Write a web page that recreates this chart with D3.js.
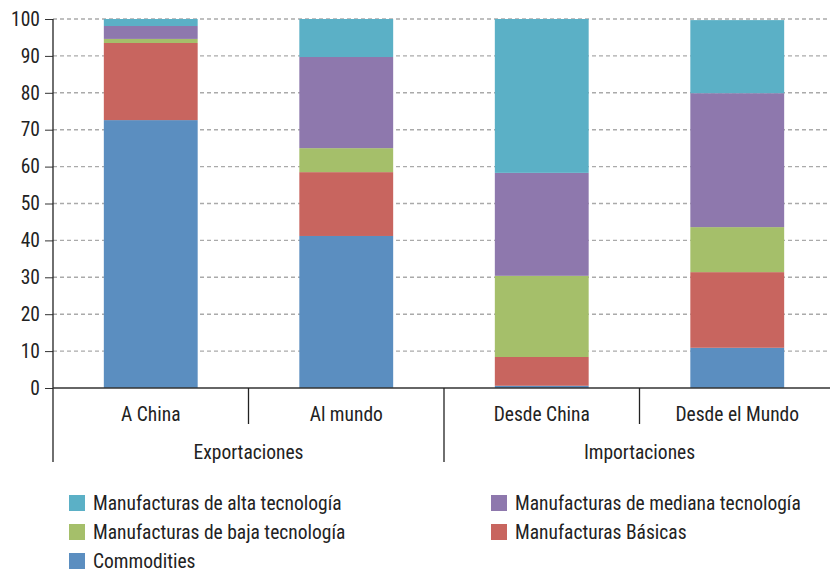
<!DOCTYPE html>
<html><head><meta charset="utf-8">
<script src="https://cdn.jsdelivr.net/npm/d3@7"></script>
<style>body{margin:0;background:#fff}svg{display:block}text{font-family:"Liberation Sans Narrow","Roboto Condensed","Arial Narrow",sans-serif;fill:#222}</style>
</head><body><svg id="c" width="830" height="571"></svg>
<script>
const categories = ["A China", "Al mundo", "Desde China", "Desde el Mundo"];
const groups = [{name: "Exportaciones", members: ["A China", "Al mundo"]}, {name: "Importaciones", members: ["Desde China", "Desde el Mundo"]}];
const seriesNames = ["Commodities", "Manufacturas Básicas", "Manufacturas de baja tecnología", "Manufacturas de mediana tecnología", "Manufacturas de alta tecnología"];
const commodities = [72.6, 41.2, 0.6, 10.9];
const basicas = [20.9, 17.3, 7.8, 20.5];
const baja = [1.1, 6.5, 22.0, 12.2];
const mediana = [3.5, 24.7, 27.9, 36.3];
const alta = [1.9, 10.3, 41.7, 19.8];
const yTicks = [0, 10, 20, 30, 40, 50, 60, 70, 80, 90, 100];
const colors = ["#5b8ec0", "#c8655f", "#a5bf6a", "#8e78ad", "#5bb0c6"];
const legendOrder = [
  "Manufacturas de alta tecnología", "Manufacturas de mediana tecnología",
  "Manufacturas de baja tecnología", "Manufacturas Básicas", "Commodities"];

const seriesValues = [commodities, basicas, baja, mediana, alta];
const table = categories.map((c, i) => {
  const o = {cat: c};
  seriesNames.forEach((s, k) => o[s] = seriesValues[k][i]);
  return o;
});
const stacked = d3.stack().keys(seriesNames)(table);

const svg = d3.select("#c");
const L = 53, R = 835, T = 19, B = 388;
const x = d3.scaleBand().domain(categories).range([L, R]).paddingInner(0.52).paddingOuter(0.26);
const xb = d3.scaleBand().domain(categories).range([L, R]);
const y = d3.scaleLinear().domain([0, 100]).range([B, T]);
const color = d3.scaleOrdinal().domain(seriesNames).range(colors);

// gridlines
svg.append("g").selectAll("line").data(yTicks.filter(d => d > 0)).join("line")
  .attr("x1", L).attr("x2", 830).attr("y1", d => y(d)).attr("y2", d => y(d))
  .attr("stroke", "#aaa").attr("stroke-width", 1.4).attr("stroke-dasharray", "4,3");

// bars
svg.append("g").selectAll("g").data(stacked).join("g")
  .attr("fill", d => color(d.key))
  .selectAll("rect").data(d => d).join("rect")
  .attr("x", d => x(d.data.cat)).attr("width", x.bandwidth())
  .attr("y", d => y(d[1])).attr("height", d => y(d[0]) - y(d[1]));

// y axis
const ya = svg.append("g").attr("transform", `translate(${L},0)`)
  .call(d3.axisLeft(y).tickValues(yTicks).tickSize(8).tickPadding(5));
ya.select(".domain").remove();
ya.selectAll(".tick line").attr("stroke", "#333");
ya.selectAll("text").attr("font-size", 19.5).attr("font-family", null).style("fill", "#222");
svg.append("line").attr("x1", L).attr("x2", L).attr("y1", T).attr("y2", 462).attr("stroke", "#222").attr("stroke-width", 1.3);
// baseline
svg.append("line").attr("x1", L).attr("x2", 830).attr("y1", B).attr("y2", B).attr("stroke", "#333").attr("stroke-width", 1.3);

// category dividers and labels
categories.forEach((c, i) => {
  if (i > 0) {
    const isGroup = groups.some(g => g.members[0] === c);
    svg.append("line").attr("x1", xb(c)).attr("x2", xb(c)).attr("y1", B).attr("y2", isGroup ? 462 : 424)
      .attr("stroke", "#222").attr("stroke-width", 1.3);
  }
  svg.append("text").attr("x", xb(c) + xb.bandwidth() / 2).attr("y", 421)
    .attr("text-anchor", "middle").attr("font-size", 19.5).text(c);
});
groups.forEach(g => {
  const x0 = xb(g.members[0]), x1 = xb(g.members[g.members.length - 1]) + xb.bandwidth();
  svg.append("text").attr("x", (x0 + x1) / 2).attr("y", 459)
    .attr("text-anchor", "middle").attr("font-size", 19.5).text(g.name);
});

// legend
const lg = svg.append("g");
legendOrder.forEach((s, i) => {
  const col = i % 2, row = Math.floor(i / 2);
  const gx = col === 0 ? 69 : 491, gy = 495 + row * 29;
  lg.append("rect").attr("x", gx).attr("y", gy).attr("width", 16).attr("height", 16).attr("fill", color(s));
  lg.append("text").attr("x", gx + 24).attr("y", gy + 15).attr("font-size", 19.5).text(s);
});
</script></body></html>
